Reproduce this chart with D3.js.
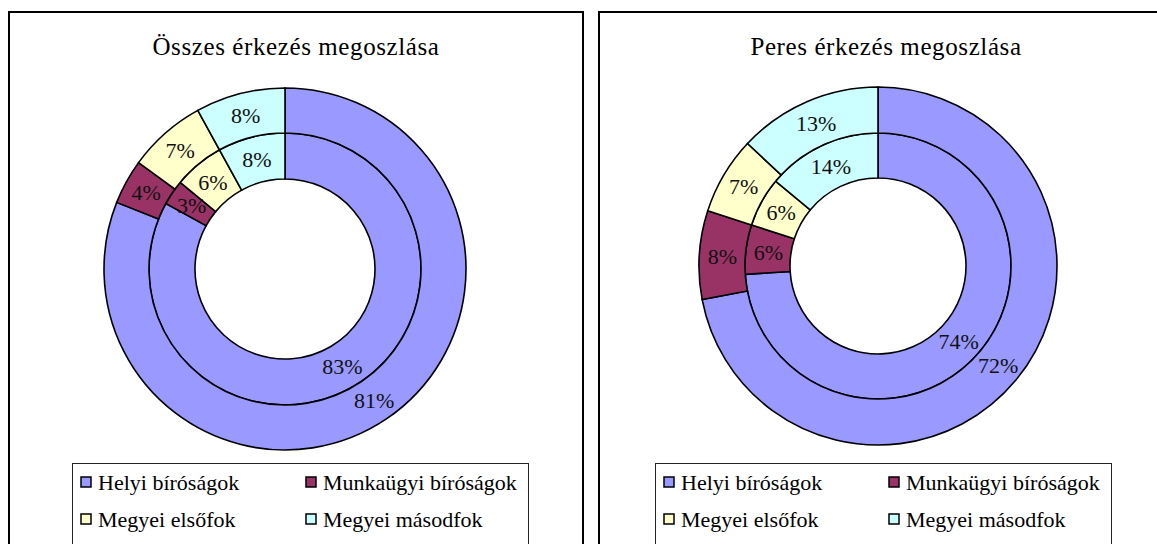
<!DOCTYPE html>
<html>
<head>
<meta charset="utf-8">
<script src="https://cdn.jsdelivr.net/npm/d3@7"></script>
<style>
	body { margin: 0; background: #ffffff; }
	svg { display: block; font-family: "Liberation Serif", "Times New Roman", serif; }
	.panel { fill: #ffffff; stroke: #000000; stroke-width: 2; }
	.slice { stroke: #000000; stroke-width: 1.6; }
	.legend-box { fill: #ffffff; stroke: #222222; stroke-width: 1; }
	.swatch { stroke: #000000; stroke-width: 1.5; }
</style>
</head>
<body>
<svg id="chart"></svg>
<script>
// Data.
var categories = ["Helyi bíróságok", "Munkaügyi bíróságok", "Megyei elsőfok", "Megyei másodfok"];
var sliceColors = ["#9999ff", "#993366", "#ffffcc", "#ccffff"];
var titles = ["Összes érkezés megoszlása", "Peres érkezés megoszlása"];
var osszesInner = [83, 3, 6, 8];
var osszesOuter = [81, 4, 7, 8];
var peresInner = [74, 6, 6, 14];
var peresOuter = [72, 8, 7, 13];

(function()
{
	// Definitions.
	var width = 1157;
	var height = 544;
	var panels = [
		{"x" : 9, "cx" : 285, "cy" : 269, "rOuter" : 181, "rMid" : 136, "rHole" : 90, "inner" : osszesInner, "outer" : osszesOuter, "legendX" : 72, "title" : titles[0]},
		{"x" : 599, "cx" : 878, "cy" : 266, "rOuter" : 179, "rMid" : 133, "rHole" : 88, "inner" : peresInner, "outer" : peresOuter, "legendX" : 655, "title" : titles[1]}
	];
	var panelWidth = 574;
	var panelTop = 12;
	var legendWidth = 456;
	var legendTop = 463;

	var svg = d3.select("#chart")
		.attr("width", width)
		.attr("height", height);

	var color = d3.scaleOrdinal()
		.domain(categories)
		.range(sliceColors);

	var pie = d3.pie()
		.sort(null)
		.value(function(d) { return d; });

	panels.forEach(function(p)
	{
		var g = svg.append("g");

		// Chart border, running off the bottom.
		g.append("rect")
			.attr("x", p.x)
			.attr("y", panelTop)
			.attr("width", panelWidth)
			.attr("height", height)
			.classed("panel", true);

		// Title.
		g.append("text")
			.attr("x", p.x + panelWidth / 2)
			.attr("y", 55)
			.attr("text-anchor", "middle")
			.style("font-size", "25px")
			.style("letter-spacing", "0.6px")
			.text(p.title);

		// Two rings: first series inside, second outside.
		var rings = [
			{"values" : p.inner, "r0" : p.rHole, "r1" : p.rMid},
			{"values" : p.outer, "r0" : p.rMid, "r1" : p.rOuter}
		];
		var donut = g.append("g")
			.attr("transform", "translate(" + p.cx + "," + p.cy + ")");
		rings.forEach(function(ring)
		{
			var arc = d3.arc()
				.innerRadius(ring.r0)
				.outerRadius(ring.r1);
			var arcs = pie(ring.values);
			donut.selectAll(null)
				.data(arcs)
				.enter()
				.append("path")
				.attr("d", arc)
				.attr("fill", function(d, i) { return color(categories[i]); })
				.classed("slice", true);
			donut.selectAll(null)
				.data(arcs)
				.enter()
				.append("text")
				.attr("transform", function(d) { return "translate(" + arc.centroid(d) + ")"; })
				.attr("dy", "0.35em")
				.attr("text-anchor", "middle")
				.style("font-size", "22px")
				.style("fill", "#111111")
				.text(function(d) { return d.data + "%"; });
		});

		// Legend.
		var legend = g.append("g")
			.attr("transform", "translate(" + p.legendX + "," + legendTop + ")");
		legend.append("rect")
			.attr("x", 0.5)
			.attr("y", 0.5)
			.attr("width", legendWidth)
			.attr("height", 100)
			.classed("legend-box", true);
		var items = legend.selectAll(".item")
			.data(categories)
			.enter()
			.append("g")
			.classed("item", true)
			.attr("transform", function(d, i) { return "translate(" + (9 + (i % 2) * 225) + "," + (19 + Math.floor(i / 2) * 37) + ")"; });
		items.append("rect")
			.attr("x", 0)
			.attr("y", -5)
			.attr("width", 10)
			.attr("height", 10)
			.attr("fill", function(d) { return color(d); })
			.classed("swatch", true);
		items.append("text")
			.attr("x", 17)
			.attr("dy", "0.35em")
			.style("font-size", "22px")
			.text(function(d) { return d; });
	});
})();
</script>
</body>
</html>
